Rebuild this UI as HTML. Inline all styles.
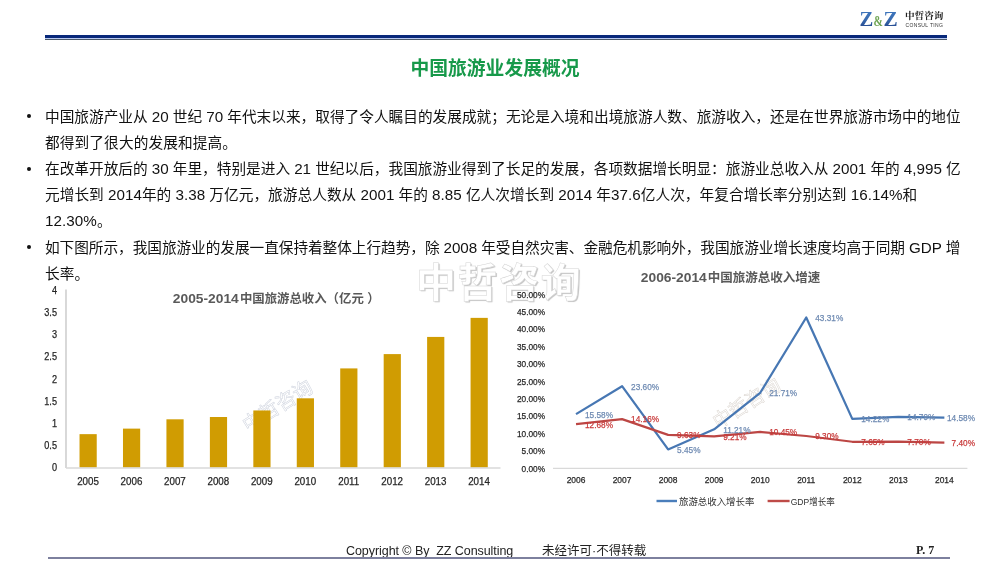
<!DOCTYPE html>
<html lang="zh-CN">
<head>
<meta charset="utf-8">
<title>中国旅游业发展概况</title>
<style>
html,body{margin:0;padding:0;background:#fff;}
body{width:1000px;height:563px;position:relative;overflow:hidden;font-family:"Liberation Sans","Noto Sans CJK SC",sans-serif;}
.abs{position:absolute;white-space:nowrap;}
.hline1{position:absolute;left:45px;top:35px;width:902px;height:3px;background:#08287a;}
.hline1b{position:absolute;left:45px;top:38px;width:902px;height:1px;background:#b8c8f0;}
.hline2{position:absolute;left:45px;top:39px;width:902px;height:1px;background:#4a5868;}
.title{position:absolute;left:410.5px;top:57.0px;font-weight:bold;font-size:18.8px;color:#17994a;line-height:24px;white-space:nowrap;}
.txt{position:absolute;left:45px;font-size:14.67px;line-height:20px;color:#111;white-space:nowrap;}
.txt .n{font-size:15.2px;}
.bul{position:absolute;left:26.5px;width:4px;height:4px;border-radius:50%;background:#111;}
.wm{position:absolute;left:416px;top:258.5px;font-size:40px;line-height:48px;font-weight:bold;color:#fff;letter-spacing:1.6px;-webkit-text-stroke:0.5px #d4d4d4;text-shadow:1.2px 1.2px 0.8px #c4c4c4;}
.foot{position:absolute;top:543px;font-size:12.5px;line-height:16px;color:#222;white-space:nowrap;}
.fline{position:absolute;left:48px;top:557px;width:902px;height:1.6px;background:#7d809e;}
</style>
</head>
<body>
<div class="hline1"></div>
<div class="hline1b"></div>
<div class="hline2"></div>
<svg class="abs" style="left:0;top:0;" width="1000" height="40" viewBox="0 0 1000 40">
<defs><linearGradient id="zg" x1="0" y1="0" x2="0" y2="1"><stop offset="0" stop-color="#3f78c0"/><stop offset="0.5" stop-color="#3a6db2"/><stop offset="1" stop-color="#1f3f84"/></linearGradient></defs>
<text x="859.6" y="25.9" textLength="13.8" lengthAdjust="spacingAndGlyphs" style="font-family:'Liberation Serif',serif;font-weight:bold;font-size:20.2px" fill="url(#zg)">Z</text>
<text x="873.6" y="25.9" textLength="9.4" lengthAdjust="spacingAndGlyphs" style="font-family:'Liberation Serif',serif;font-weight:bold;font-size:14px" fill="#6ea452">&amp;</text>
<text x="883.4" y="25.9" textLength="14.2" lengthAdjust="spacingAndGlyphs" style="font-family:'Liberation Serif',serif;font-weight:bold;font-size:20.2px" fill="url(#zg)">Z</text>
</svg>
<div class="abs" style="left:905px;top:10px;font-family:'Liberation Serif','Noto Serif CJK SC',serif;font-weight:bold;font-size:9.6px;line-height:12px;color:#222;">中哲咨询</div>
<div class="abs" style="left:905.5px;top:22.3px;font-family:'Liberation Sans',sans-serif;font-size:5px;line-height:6px;color:#333;letter-spacing:0.35px;">CONSUL TING</div>
<div class="title">中国旅游业发展概况</div>
<div class="bul" style="top:114.30px;"></div>
<div class="txt" style="top:106.50px;letter-spacing:0.013px;">中国旅游产业从 <span class="n">20</span> 世纪 <span class="n">70</span> 年代末以来，取得了令人瞩目的发展成就；无论是入境和出境旅游人数、旅游收入，还是在世界旅游市场中的地位</div>
<div class="txt" style="top:132.70px;letter-spacing:0.123px;">都得到了很大的发展和提高。</div>
<div class="bul" style="top:166.70px;"></div>
<div class="txt" style="top:158.90px;letter-spacing:0.008px;">在改革开放后的 <span class="n">30</span> 年里，特别是进入 <span class="n">21</span> 世纪以后，我国旅游业得到了长足的发展，各项数据增长明显：旅游业总收入从 <span class="n">2001</span> 年的 <span class="n">4,995</span> 亿</div>
<div class="txt" style="top:185.10px;letter-spacing:0.044px;">元增长到 <span class="n">2014</span>年的 <span class="n">3.38</span> 万亿元，旅游总人数从 <span class="n">2001</span> 年的 <span class="n">8.85</span> 亿人次增长到 <span class="n">2014</span> 年<span class="n">37.6</span>亿人次，年复合增长率分别达到 <span class="n">16.14%</span>和</div>
<div class="txt" style="top:211.30px;letter-spacing:0.067px;"><span class="n">12.30%</span>。</div>
<div class="bul" style="top:245.30px;"></div>
<div class="txt" style="top:237.50px;letter-spacing:-0.045px;">如下图所示，我国旅游业的发展一直保持着整体上行趋势，除 <span class="n">2008</span> 年受自然灾害、金融危机影响外，我国旅游业增长速度均高于同期 <span class="n">GDP</span> 增</div>
<div class="txt" style="top:263.70px;letter-spacing:0.100px;">长率。</div>
<div class="wm">中哲咨询</div>
<svg class="abs" style="left:0;top:0;" width="1000" height="563" viewBox="0 0 1000 563">
<text x="0" y="0" transform="translate(248,432.5) rotate(-32)" style="font-family:'Liberation Sans','Noto Sans CJK SC',sans-serif;font-size:19.6px" fill="none" stroke="#c9ceda" stroke-width="0.45">中哲咨询</text>
<rect x="79.53" y="434.15" width="17.2" height="33.45" fill="#d09c02"/>
<text x="77.15" y="484.85" textLength="21.75" lengthAdjust="spacingAndGlyphs" style="font-family:'Liberation Sans','Noto Sans CJK SC',sans-serif;font-size:10.4px" fill="#262626" stroke="#262626" stroke-width="0.25">2005</text>
<rect x="122.98" y="428.62" width="17.2" height="38.98" fill="#d09c02"/>
<text x="120.60" y="484.85" textLength="21.75" lengthAdjust="spacingAndGlyphs" style="font-family:'Liberation Sans','Noto Sans CJK SC',sans-serif;font-size:10.4px" fill="#262626" stroke="#262626" stroke-width="0.25">2006</text>
<rect x="166.43" y="419.31" width="17.2" height="48.29" fill="#d09c02"/>
<text x="164.05" y="484.85" textLength="21.75" lengthAdjust="spacingAndGlyphs" style="font-family:'Liberation Sans','Noto Sans CJK SC',sans-serif;font-size:10.4px" fill="#262626" stroke="#262626" stroke-width="0.25">2007</text>
<rect x="209.88" y="417.01" width="17.2" height="50.59" fill="#d09c02"/>
<text x="207.50" y="484.85" textLength="21.75" lengthAdjust="spacingAndGlyphs" style="font-family:'Liberation Sans','Noto Sans CJK SC',sans-serif;font-size:10.4px" fill="#262626" stroke="#262626" stroke-width="0.25">2008</text>
<rect x="253.33" y="410.45" width="17.2" height="57.15" fill="#d09c02"/>
<text x="250.95" y="484.85" textLength="21.75" lengthAdjust="spacingAndGlyphs" style="font-family:'Liberation Sans','Noto Sans CJK SC',sans-serif;font-size:10.4px" fill="#262626" stroke="#262626" stroke-width="0.25">2009</text>
<rect x="296.77" y="398.31" width="17.2" height="69.29" fill="#d09c02"/>
<text x="294.40" y="484.85" textLength="21.75" lengthAdjust="spacingAndGlyphs" style="font-family:'Liberation Sans','Noto Sans CJK SC',sans-serif;font-size:10.4px" fill="#262626" stroke="#262626" stroke-width="0.25">2010</text>
<rect x="340.23" y="368.41" width="17.2" height="99.19" fill="#d09c02"/>
<text x="338.21" y="484.85" textLength="21.02" lengthAdjust="spacingAndGlyphs" style="font-family:'Liberation Sans','Noto Sans CJK SC',sans-serif;font-size:10.4px" fill="#262626" stroke="#262626" stroke-width="0.25">2011</text>
<rect x="383.68" y="354.10" width="17.2" height="113.50" fill="#d09c02"/>
<text x="381.30" y="484.85" textLength="21.75" lengthAdjust="spacingAndGlyphs" style="font-family:'Liberation Sans','Noto Sans CJK SC',sans-serif;font-size:10.4px" fill="#262626" stroke="#262626" stroke-width="0.25">2012</text>
<rect x="427.12" y="336.92" width="17.2" height="130.69" fill="#d09c02"/>
<text x="424.75" y="484.85" textLength="21.75" lengthAdjust="spacingAndGlyphs" style="font-family:'Liberation Sans','Noto Sans CJK SC',sans-serif;font-size:10.4px" fill="#262626" stroke="#262626" stroke-width="0.25">2013</text>
<rect x="470.57" y="317.87" width="17.2" height="149.73" fill="#d09c02"/>
<text x="468.20" y="484.85" textLength="21.75" lengthAdjust="spacingAndGlyphs" style="font-family:'Liberation Sans','Noto Sans CJK SC',sans-serif;font-size:10.4px" fill="#262626" stroke="#262626" stroke-width="0.25">2014</text>
<line x1="66.0" y1="289.5" x2="66.0" y2="468.1" stroke="#c4c4c4" stroke-width="1.3"/>
<line x1="66.0" y1="468.0" x2="500.5" y2="468.0" stroke="#d9d9d9" stroke-width="1.3"/>
<text x="51.91" y="471.20" textLength="5.09" lengthAdjust="spacingAndGlyphs" style="font-family:'Liberation Sans','Noto Sans CJK SC',sans-serif;font-size:10.4px" fill="#262626" stroke="#262626" stroke-width="0.25">0</text>
<text x="44.28" y="449.05" textLength="12.72" lengthAdjust="spacingAndGlyphs" style="font-family:'Liberation Sans','Noto Sans CJK SC',sans-serif;font-size:10.4px" fill="#262626" stroke="#262626" stroke-width="0.25">0.5</text>
<text x="51.91" y="426.90" textLength="5.09" lengthAdjust="spacingAndGlyphs" style="font-family:'Liberation Sans','Noto Sans CJK SC',sans-serif;font-size:10.4px" fill="#262626" stroke="#262626" stroke-width="0.25">1</text>
<text x="44.28" y="404.75" textLength="12.72" lengthAdjust="spacingAndGlyphs" style="font-family:'Liberation Sans','Noto Sans CJK SC',sans-serif;font-size:10.4px" fill="#262626" stroke="#262626" stroke-width="0.25">1.5</text>
<text x="51.91" y="382.60" textLength="5.09" lengthAdjust="spacingAndGlyphs" style="font-family:'Liberation Sans','Noto Sans CJK SC',sans-serif;font-size:10.4px" fill="#262626" stroke="#262626" stroke-width="0.25">2</text>
<text x="44.28" y="360.45" textLength="12.72" lengthAdjust="spacingAndGlyphs" style="font-family:'Liberation Sans','Noto Sans CJK SC',sans-serif;font-size:10.4px" fill="#262626" stroke="#262626" stroke-width="0.25">2.5</text>
<text x="51.91" y="338.30" textLength="5.09" lengthAdjust="spacingAndGlyphs" style="font-family:'Liberation Sans','Noto Sans CJK SC',sans-serif;font-size:10.4px" fill="#262626" stroke="#262626" stroke-width="0.25">3</text>
<text x="44.28" y="316.15" textLength="12.72" lengthAdjust="spacingAndGlyphs" style="font-family:'Liberation Sans','Noto Sans CJK SC',sans-serif;font-size:10.4px" fill="#262626" stroke="#262626" stroke-width="0.25">3.5</text>
<text x="51.91" y="294.00" textLength="5.09" lengthAdjust="spacingAndGlyphs" style="font-family:'Liberation Sans','Noto Sans CJK SC',sans-serif;font-size:10.4px" fill="#262626" stroke="#262626" stroke-width="0.25">4</text>
<text x="172.8" y="302.8" textLength="66" lengthAdjust="spacingAndGlyphs" style="font-family:'Liberation Sans','Noto Sans CJK SC',sans-serif;font-size:13.3px;font-weight:bold" fill="#595959">2005-2014</text>
<text x="239.9" y="302.9" style="font-family:'Liberation Sans','Noto Sans CJK SC',sans-serif;font-size:12.4px;font-weight:bold" fill="#595959">中国旅游总收入（亿元</text>
<text x="367.3" y="302.9" style="font-family:'Liberation Sans','Noto Sans CJK SC',sans-serif;font-size:12.4px;font-weight:bold" fill="#595959">）</text>
<text x="0" y="0" transform="translate(718,429) rotate(-32)" style="font-family:'Liberation Sans','Noto Sans CJK SC',sans-serif;font-size:19px" fill="none" stroke="#d8d2cc" stroke-width="0.45">中哲咨询</text>
<line x1="553.0" y1="468.4" x2="967.4" y2="468.4" stroke="#d9d9d9" stroke-width="1.2"/>
<text x="521.59" y="471.70" textLength="23.41" lengthAdjust="spacingAndGlyphs" style="font-family:'Liberation Sans','Noto Sans CJK SC',sans-serif;font-size:9.6px" fill="#262626" stroke="#262626" stroke-width="0.25">0.00%</text>
<text x="521.59" y="454.28" textLength="23.41" lengthAdjust="spacingAndGlyphs" style="font-family:'Liberation Sans','Noto Sans CJK SC',sans-serif;font-size:9.6px" fill="#262626" stroke="#262626" stroke-width="0.25">5.00%</text>
<text x="517.00" y="436.86" textLength="28.00" lengthAdjust="spacingAndGlyphs" style="font-family:'Liberation Sans','Noto Sans CJK SC',sans-serif;font-size:9.6px" fill="#262626" stroke="#262626" stroke-width="0.25">10.00%</text>
<text x="517.00" y="419.44" textLength="28.00" lengthAdjust="spacingAndGlyphs" style="font-family:'Liberation Sans','Noto Sans CJK SC',sans-serif;font-size:9.6px" fill="#262626" stroke="#262626" stroke-width="0.25">15.00%</text>
<text x="517.00" y="402.02" textLength="28.00" lengthAdjust="spacingAndGlyphs" style="font-family:'Liberation Sans','Noto Sans CJK SC',sans-serif;font-size:9.6px" fill="#262626" stroke="#262626" stroke-width="0.25">20.00%</text>
<text x="517.00" y="384.60" textLength="28.00" lengthAdjust="spacingAndGlyphs" style="font-family:'Liberation Sans','Noto Sans CJK SC',sans-serif;font-size:9.6px" fill="#262626" stroke="#262626" stroke-width="0.25">25.00%</text>
<text x="517.00" y="367.18" textLength="28.00" lengthAdjust="spacingAndGlyphs" style="font-family:'Liberation Sans','Noto Sans CJK SC',sans-serif;font-size:9.6px" fill="#262626" stroke="#262626" stroke-width="0.25">30.00%</text>
<text x="517.00" y="349.76" textLength="28.00" lengthAdjust="spacingAndGlyphs" style="font-family:'Liberation Sans','Noto Sans CJK SC',sans-serif;font-size:9.6px" fill="#262626" stroke="#262626" stroke-width="0.25">35.00%</text>
<text x="517.00" y="332.34" textLength="28.00" lengthAdjust="spacingAndGlyphs" style="font-family:'Liberation Sans','Noto Sans CJK SC',sans-serif;font-size:9.6px" fill="#262626" stroke="#262626" stroke-width="0.25">40.00%</text>
<text x="517.00" y="314.92" textLength="28.00" lengthAdjust="spacingAndGlyphs" style="font-family:'Liberation Sans','Noto Sans CJK SC',sans-serif;font-size:9.6px" fill="#262626" stroke="#262626" stroke-width="0.25">45.00%</text>
<text x="517.00" y="297.50" textLength="28.00" lengthAdjust="spacingAndGlyphs" style="font-family:'Liberation Sans','Noto Sans CJK SC',sans-serif;font-size:9.6px" fill="#262626" stroke="#262626" stroke-width="0.25">50.00%</text>
<text x="566.63" y="483.40" textLength="18.79" lengthAdjust="spacingAndGlyphs" style="font-family:'Liberation Sans','Noto Sans CJK SC',sans-serif;font-size:9.6px" fill="#262626" stroke="#262626" stroke-width="0.25">2006</text>
<text x="612.67" y="483.40" textLength="18.79" lengthAdjust="spacingAndGlyphs" style="font-family:'Liberation Sans','Noto Sans CJK SC',sans-serif;font-size:9.6px" fill="#262626" stroke="#262626" stroke-width="0.25">2007</text>
<text x="658.71" y="483.40" textLength="18.79" lengthAdjust="spacingAndGlyphs" style="font-family:'Liberation Sans','Noto Sans CJK SC',sans-serif;font-size:9.6px" fill="#262626" stroke="#262626" stroke-width="0.25">2008</text>
<text x="704.76" y="483.40" textLength="18.79" lengthAdjust="spacingAndGlyphs" style="font-family:'Liberation Sans','Noto Sans CJK SC',sans-serif;font-size:9.6px" fill="#262626" stroke="#262626" stroke-width="0.25">2009</text>
<text x="750.80" y="483.40" textLength="18.79" lengthAdjust="spacingAndGlyphs" style="font-family:'Liberation Sans','Noto Sans CJK SC',sans-serif;font-size:9.6px" fill="#262626" stroke="#262626" stroke-width="0.25">2010</text>
<text x="797.16" y="483.40" textLength="18.17" lengthAdjust="spacingAndGlyphs" style="font-family:'Liberation Sans','Noto Sans CJK SC',sans-serif;font-size:9.6px" fill="#262626" stroke="#262626" stroke-width="0.25">2011</text>
<text x="842.89" y="483.40" textLength="18.79" lengthAdjust="spacingAndGlyphs" style="font-family:'Liberation Sans','Noto Sans CJK SC',sans-serif;font-size:9.6px" fill="#262626" stroke="#262626" stroke-width="0.25">2012</text>
<text x="888.94" y="483.40" textLength="18.79" lengthAdjust="spacingAndGlyphs" style="font-family:'Liberation Sans','Noto Sans CJK SC',sans-serif;font-size:9.6px" fill="#262626" stroke="#262626" stroke-width="0.25">2013</text>
<text x="934.98" y="483.40" textLength="18.79" lengthAdjust="spacingAndGlyphs" style="font-family:'Liberation Sans','Noto Sans CJK SC',sans-serif;font-size:9.6px" fill="#262626" stroke="#262626" stroke-width="0.25">2014</text>
<polyline points="576.02,414.12 622.07,386.18 668.11,449.41 714.16,429.34 760.20,392.76 806.24,317.51 852.29,418.86 898.33,416.87 944.38,417.60" fill="none" stroke="#4777b3" stroke-width="2.25" stroke-linejoin="round"/>
<polyline points="576.02,424.22 622.07,419.07 668.11,434.85 714.16,436.31 760.20,431.99 806.24,436.00 852.29,441.75 898.33,441.57 944.38,442.62" fill="none" stroke="#bc4644" stroke-width="2.25" stroke-linejoin="round"/>
<text x="585.02" y="417.52" textLength="28.00" lengthAdjust="spacingAndGlyphs" style="font-family:'Liberation Sans','Noto Sans CJK SC',sans-serif;font-size:9.6px" fill="#6e8ab2" stroke="#6e8ab2" stroke-width="0.25">15.58%</text>
<text x="631.07" y="389.58" textLength="28.00" lengthAdjust="spacingAndGlyphs" style="font-family:'Liberation Sans','Noto Sans CJK SC',sans-serif;font-size:9.6px" fill="#6e8ab2" stroke="#6e8ab2" stroke-width="0.25">23.60%</text>
<text x="677.11" y="452.81" textLength="23.41" lengthAdjust="spacingAndGlyphs" style="font-family:'Liberation Sans','Noto Sans CJK SC',sans-serif;font-size:9.6px" fill="#6e8ab2" stroke="#6e8ab2" stroke-width="0.25">5.45%</text>
<text x="723.16" y="432.74" textLength="27.39" lengthAdjust="spacingAndGlyphs" style="font-family:'Liberation Sans','Noto Sans CJK SC',sans-serif;font-size:9.6px" fill="#6e8ab2" stroke="#6e8ab2" stroke-width="0.25">11.21%</text>
<text x="769.20" y="396.16" textLength="28.00" lengthAdjust="spacingAndGlyphs" style="font-family:'Liberation Sans','Noto Sans CJK SC',sans-serif;font-size:9.6px" fill="#6e8ab2" stroke="#6e8ab2" stroke-width="0.25">21.71%</text>
<text x="815.24" y="320.91" textLength="28.00" lengthAdjust="spacingAndGlyphs" style="font-family:'Liberation Sans','Noto Sans CJK SC',sans-serif;font-size:9.6px" fill="#6e8ab2" stroke="#6e8ab2" stroke-width="0.25">43.31%</text>
<text x="861.29" y="422.26" textLength="28.00" lengthAdjust="spacingAndGlyphs" style="font-family:'Liberation Sans','Noto Sans CJK SC',sans-serif;font-size:9.6px" fill="#6e8ab2" stroke="#6e8ab2" stroke-width="0.25">14.22%</text>
<text x="907.33" y="420.27" textLength="28.00" lengthAdjust="spacingAndGlyphs" style="font-family:'Liberation Sans','Noto Sans CJK SC',sans-serif;font-size:9.6px" fill="#6e8ab2" stroke="#6e8ab2" stroke-width="0.25">14.79%</text>
<text x="947.00" y="421.00" textLength="28.00" lengthAdjust="spacingAndGlyphs" style="font-family:'Liberation Sans','Noto Sans CJK SC',sans-serif;font-size:9.6px" fill="#6e8ab2" stroke="#6e8ab2" stroke-width="0.25">14.58%</text>
<text x="585.02" y="427.62" textLength="28.00" lengthAdjust="spacingAndGlyphs" style="font-family:'Liberation Sans','Noto Sans CJK SC',sans-serif;font-size:9.6px" fill="#c83a3a" stroke="#c83a3a" stroke-width="0.25">12.68%</text>
<text x="631.07" y="422.47" textLength="28.00" lengthAdjust="spacingAndGlyphs" style="font-family:'Liberation Sans','Noto Sans CJK SC',sans-serif;font-size:9.6px" fill="#c83a3a" stroke="#c83a3a" stroke-width="0.25">14.16%</text>
<text x="677.11" y="438.25" textLength="23.41" lengthAdjust="spacingAndGlyphs" style="font-family:'Liberation Sans','Noto Sans CJK SC',sans-serif;font-size:9.6px" fill="#c83a3a" stroke="#c83a3a" stroke-width="0.25">9.63%</text>
<text x="723.16" y="439.71" textLength="23.41" lengthAdjust="spacingAndGlyphs" style="font-family:'Liberation Sans','Noto Sans CJK SC',sans-serif;font-size:9.6px" fill="#c83a3a" stroke="#c83a3a" stroke-width="0.25">9.21%</text>
<text x="769.20" y="435.39" textLength="28.00" lengthAdjust="spacingAndGlyphs" style="font-family:'Liberation Sans','Noto Sans CJK SC',sans-serif;font-size:9.6px" fill="#c83a3a" stroke="#c83a3a" stroke-width="0.25">10.45%</text>
<text x="815.24" y="439.40" textLength="23.41" lengthAdjust="spacingAndGlyphs" style="font-family:'Liberation Sans','Noto Sans CJK SC',sans-serif;font-size:9.6px" fill="#c83a3a" stroke="#c83a3a" stroke-width="0.25">9.30%</text>
<text x="861.29" y="445.15" textLength="23.41" lengthAdjust="spacingAndGlyphs" style="font-family:'Liberation Sans','Noto Sans CJK SC',sans-serif;font-size:9.6px" fill="#c83a3a" stroke="#c83a3a" stroke-width="0.25">7.65%</text>
<text x="907.33" y="444.97" textLength="23.41" lengthAdjust="spacingAndGlyphs" style="font-family:'Liberation Sans','Noto Sans CJK SC',sans-serif;font-size:9.6px" fill="#c83a3a" stroke="#c83a3a" stroke-width="0.25">7.70%</text>
<text x="951.59" y="446.02" textLength="23.41" lengthAdjust="spacingAndGlyphs" style="font-family:'Liberation Sans','Noto Sans CJK SC',sans-serif;font-size:9.6px" fill="#c83a3a" stroke="#c83a3a" stroke-width="0.25">7.40%</text>
<text x="640.8" y="281.5" textLength="66" lengthAdjust="spacingAndGlyphs" style="font-family:'Liberation Sans','Noto Sans CJK SC',sans-serif;font-size:13.3px;font-weight:bold" fill="#595959">2006-2014</text>
<text x="707.8" y="281.6" style="font-family:'Liberation Sans','Noto Sans CJK SC',sans-serif;font-size:12.5px;font-weight:bold" fill="#595959">中国旅游总收入增速</text>
<line x1="656.5" y1="501" x2="677" y2="501" stroke="#4a7ebb" stroke-width="2.4"/>
<text x="679" y="504.8" textLength="75.4" lengthAdjust="spacingAndGlyphs" style="font-family:'Liberation Sans','Noto Sans CJK SC',sans-serif;font-size:9.6px" fill="#303030">旅游总收入增长率</text>
<line x1="767.6" y1="501" x2="789.6" y2="501" stroke="#be4b48" stroke-width="2.4"/>
<text x="790.7" y="504.8" textLength="44" lengthAdjust="spacingAndGlyphs" style="font-family:'Liberation Sans','Noto Sans CJK SC',sans-serif;font-size:9.6px" fill="#303030">GDP增长率</text>
</svg>
<div class="foot" style="left:346px;font-family:'Liberation Sans',sans-serif;letter-spacing:-0.06px;">Copyright © By&nbsp; ZZ Consulting</div>
<div class="foot" style="left:542px;">未经许可·不得转载</div>
<div class="foot" style="left:916px;top:542.3px;font-family:'Liberation Serif',serif;font-weight:bold;font-size:12px;">P. 7</div>
<div class="fline"></div>
</body>
</html>
